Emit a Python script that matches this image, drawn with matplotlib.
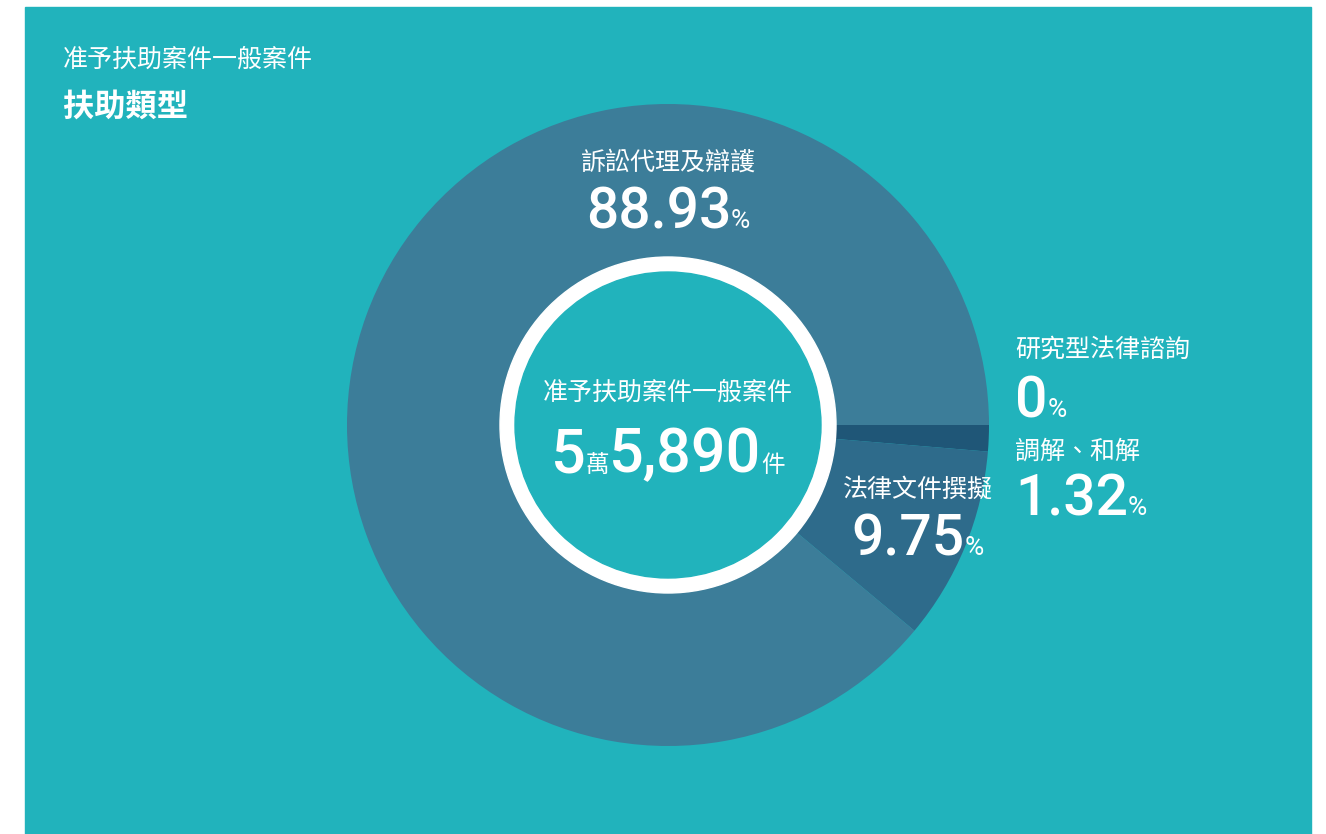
import matplotlib
matplotlib.use("Agg")
import matplotlib.pyplot as plt
from matplotlib.patches import Rectangle, Circle

# 資料
categories = ['研究型法律諮詢', '調解、和解', '法律文件撰擬', '訴訟代理及辯護']
shares = [0, 1.32, 9.75, 88.93]
total_cases = 55890
center_title = '准予扶助案件一般案件'

slice_colors = ['#1f5677', '#1f5677', '#2e6b8b', '#3c7d99']
teal = '#21b3bc'
W, H = 1326, 834

CJK = ['Noto Sans CJK TC', 'DejaVu Sans']
NUM = ['Roboto', 'Noto Sans CJK TC', 'DejaVu Sans']

fig = plt.figure(figsize=(W / 100, H / 100), dpi=100, facecolor='white')
ax = fig.add_axes([0, 0, 1, 1])


def Y(y):
    return H - y


ax.add_patch(Rectangle((25, 0), 1286, Y(7), color=teal, zorder=0))

cx, cy, R = 668, Y(425), 321
ax.pie(shares, colors=slice_colors, startangle=0, counterclock=False,
       center=(cx, cy), radius=R, wedgeprops=dict(width=R - 168, linewidth=0),
       frame=True)
ax.set_xlim(0, W)
ax.set_ylim(0, H)
ax.set_aspect('equal')
ax.axis('off')
ax.add_patch(Circle((cx, cy), 168, color='white', zorder=3))
ax.add_patch(Circle((cx, cy), 153, color=teal, zorder=4))

renderer = fig.canvas.get_renderer()


def runs(x, y, parts, ha='left'):
    # parts: (text, size, family, weight) placed on one baseline
    items = []
    for s, size, fam, wt in parts:
        t = ax.text(0, Y(y), s, fontsize=size, family=fam, weight=wt,
                    color='white', va='baseline', ha='left', zorder=6)
        bb = t.get_window_extent(renderer)
        items.append((t, bb.width))
    total = sum(w for _, w in items)
    start = x - total / 2 if ha == 'center' else x
    for t, w in items:
        t.set_x(start)
        start += w


def pct(v):
    return '0' if v == 0 else '%.2f' % v


# 標題
ax.text(63, Y(60), center_title, fontsize=18, family=CJK, weight='medium',
        color='white', va='center', ha='left')
ax.text(63, Y(107), '扶助類型', fontsize=22.5, family=CJK, weight='bold',
        color='white', va='center', ha='left')

# 中心
ax.text(cx, Y(393), center_title, fontsize=18, family=CJK, weight='medium',
        color='white', va='center', ha='center', zorder=6)
wan, rest = divmod(total_cases, 10000)
runs(cx, 472, [(str(wan), 44, NUM, 'medium'), ('萬', 17, CJK, 'medium'),
               ('{:,}'.format(rest), 44, NUM, 'medium'), ('件', 17, CJK, 'medium')],
     ha='center')

# 標籤: (x, 名稱中心 y, 數字基線 y, 對齊)
label_pos = {
    '研究型法律諮詢': (1015, 350, 417, 'left'),
    '調解、和解': (1015, 452, 515, 'left'),
    '法律文件撰擬': (918, 490, 555, 'center'),
    '訴訟代理及辯護': (668, 163, 228, 'center'),
}
for name, v in zip(categories, shares):
    x, y, yb, ha = label_pos[name]
    ax.text(x, Y(y), name, fontsize=18, family=CJK, weight='medium',
            color='white', va='center', ha=ha, zorder=6)
    runs(x, yb, [(pct(v), 41, NUM, 'medium'), ('%', 19, NUM, 'normal')], ha=ha)

fig.savefig('out.png', dpi=100, facecolor='white')
